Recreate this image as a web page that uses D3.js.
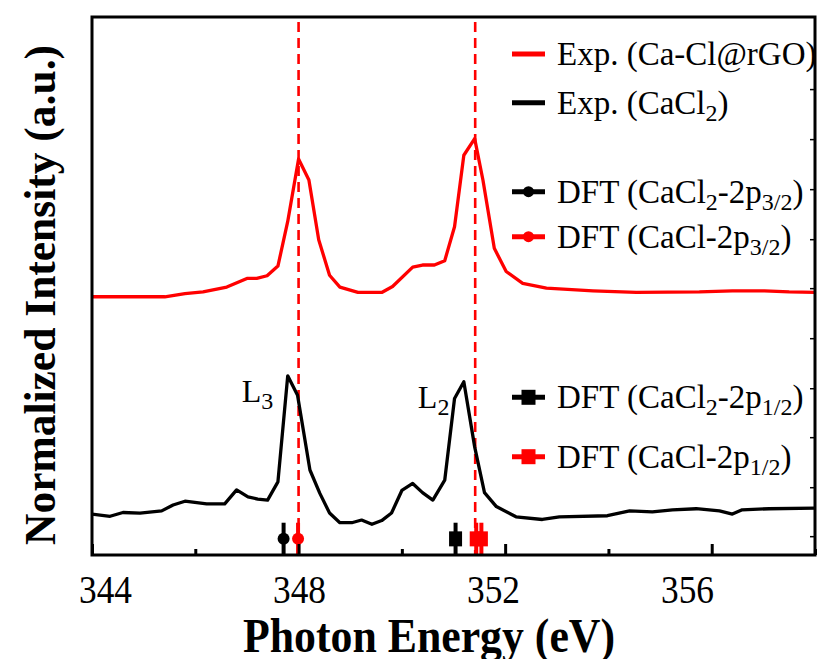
<!DOCTYPE html>
<html><head><meta charset="utf-8">
<script src="https://cdn.jsdelivr.net/npm/d3@7/dist/d3.min.js"></script>
<style>
body{margin:0;background:#fff}
svg{display:block}
text{font-family:"Liberation Serif","Times New Roman",serif !important;fill:#000}
</style>
</head><body>
<svg id="chart" width="817" height="659"></svg>
<script>
// ---------- data ----------
const redEnergy = [344.00,345.41,345.80,346.15,346.61,347.00,347.19,347.39,347.60,347.79,348.00,348.20,348.39,348.60,348.80,349.15,349.61,349.82,350.21,350.40,350.63,350.83,351.02,351.20,351.41,351.57,351.79,352.02,352.34,352.80,353.70,354.54,355.76,356.40,357.02,357.50,358.00];
const redIntensity = [0.480,0.480,0.486,0.489,0.498,0.514,0.514,0.519,0.537,0.620,0.736,0.697,0.586,0.520,0.498,0.488,0.488,0.499,0.535,0.539,0.539,0.547,0.610,0.743,0.774,0.697,0.570,0.527,0.505,0.496,0.491,0.488,0.489,0.491,0.491,0.489,0.488];

const blackEnergy = [344.00,344.35,344.60,344.93,345.35,345.57,345.80,346.22,346.57,346.80,347.02,347.21,347.40,347.60,347.79,347.98,348.22,348.41,348.60,348.80,349.03,349.22,349.42,349.61,349.80,350.00,350.21,350.40,350.60,350.83,351.02,351.20,351.41,351.60,351.83,352.21,352.72,353.05,353.98,354.41,354.85,355.24,355.70,356.15,356.40,356.59,357.11,358.00];
const blackIntensity = [0.076,0.072,0.079,0.078,0.082,0.093,0.100,0.095,0.095,0.121,0.108,0.104,0.102,0.136,0.333,0.297,0.158,0.115,0.078,0.060,0.060,0.065,0.057,0.064,0.078,0.120,0.133,0.116,0.102,0.139,0.291,0.322,0.201,0.116,0.090,0.071,0.066,0.071,0.073,0.082,0.080,0.084,0.086,0.082,0.076,0.084,0.086,0.087];

const dftCaCl2_p32 = [347.71];
const dftCaCl_p32  = [347.99];
const dftCaCl2_p12 = [351.04];
const dftCaCl_p12  = [351.44, 351.54];
const dftLevel = 0.030;
const dftError = 0.030;

const dashedEnergies = [348.00, 351.42];

const xMajorTicks = [344, 348, 352, 356];
const xMinorTicks = [346, 350, 354, 358];
const yRightTicks = [0.035,0.126,0.219,0.310,0.403,0.496,0.587,0.680,0.773,0.866];

const peakLabels = [["L","3",347.79],["L","2",351.20]];

const legendLabels = [
  [["Exp. (Ca-Cl@rGO)",0]],
  [["Exp. (CaCl",0],["2",1],[")",0]],
  [["DFT (CaCl",0],["2",1],["-2p",0],["3/2",1],[")",0]],
  [["DFT (CaCl-2p",0],["3/2",1],[")",0]],
  [["DFT (CaCl",0],["2",1],["-2p",0],["1/2",1],[")",0]],
  [["DFT (CaCl-2p",0],["1/2",1],[")",0]]
];

// ---------- layout ----------
const svg = d3.select("#chart");
const P = {left:92, right:815, top:17, bottom:555};
const x = d3.scaleLinear().domain([344,358]).range([P.left,P.right]);
const y = d3.scaleLinear().domain([0,1]).range([P.bottom,P.top]);
// tick labels sit on a slightly compressed scale in the reference
const xLabel = d3.scaleLinear().domain([344,356]).range([105,687]);

const RED = "#ff0000", BLACK = "#000000";
const SERIF = "Liberation Serif, Times New Roman, serif";

svg.append("clipPath").attr("id","clip").append("rect")
  .attr("x",P.left).attr("y",P.top).attr("width",P.right-P.left).attr("height",P.bottom-P.top);

const g = svg.append("g").attr("clip-path","url(#clip)");

// dashed reference lines
g.selectAll("line.dash").data(dashedEnergies).join("line")
  .attr("x1",d=>x(d)).attr("x2",d=>x(d))
  .attr("y1",P.top+5).attr("y2",P.bottom)
  .attr("stroke",RED).attr("stroke-width",2.6).attr("stroke-dasharray","10,6");

const line = d3.line().x(d=>x(d[0])).y(d=>y(d[1]));
g.append("path").datum(d3.zip(redEnergy,redIntensity))
  .attr("d",line).attr("fill","none").attr("stroke",RED).attr("stroke-width",3.3).attr("stroke-linejoin","round");
g.append("path").datum(d3.zip(blackEnergy,blackIntensity))
  .attr("d",line).attr("fill","none").attr("stroke",BLACK).attr("stroke-width",3.3).attr("stroke-linejoin","round");

// DFT sticks + markers
function dft(vals,color,shape){
  g.selectAll(null).data(vals).join("line")
    .attr("x1",d=>x(d)).attr("x2",d=>x(d))
    .attr("y1",y(dftLevel+dftError)).attr("y2",y(dftLevel-dftError))
    .attr("stroke",color).attr("stroke-width",4);
  if(shape==="circle"){
    g.selectAll(null).data(vals).join("circle")
      .attr("cx",d=>x(d)).attr("cy",y(dftLevel)).attr("r",6).attr("fill",color);
  } else {
    g.selectAll(null).data(vals).join("rect")
      .attr("x",d=>x(d)-6.5).attr("y",y(dftLevel)-7.5).attr("width",13).attr("height",15).attr("fill",color);
  }
}
dft(dftCaCl2_p32,BLACK,"circle");
dft(dftCaCl_p32,RED,"circle");
dft(dftCaCl2_p12,BLACK,"square");
dft(dftCaCl_p12,RED,"square");

// axes frame
const frame = svg.append("g");
const bx = frame.append("g").attr("transform",`translate(0,${P.bottom})`)
  .call(d3.axisTop(x).tickValues(xMajorTicks).tickSize(11).tickFormat(""));
const bxm = frame.append("g").attr("transform",`translate(0,${P.bottom})`)
  .call(d3.axisTop(x).tickValues(xMinorTicks).tickSize(6).tickFormat(""));
[bx,bxm].forEach(a=>{a.select(".domain").remove();a.selectAll(".tick line").attr("stroke","#000").attr("stroke-width",3);});

const ry = frame.append("g").attr("transform",`translate(${P.right},0)`)
  .call(d3.axisLeft(y).tickValues(yRightTicks).tickSize(5).tickFormat(""));
ry.select(".domain").remove();
ry.selectAll(".tick line").attr("stroke","#000").attr("stroke-width",1.5);

frame.append("rect").attr("x",P.left).attr("y",P.top)
  .attr("width",P.right-P.left).attr("height",P.bottom-P.top)
  .attr("fill","none").attr("stroke","#000").attr("stroke-width",3);

// tick labels
const lx = svg.append("g").attr("transform",`translate(0,${P.bottom})`)
  .call(d3.axisBottom(xLabel).tickValues(xMajorTicks).tickSize(0).tickPadding(0).tickFormat(d3.format("d")));
lx.attr("font-family",SERIF);
lx.select(".domain").remove();
lx.selectAll(".tick line").remove();
lx.selectAll("text").attr("y",48).attr("dy",null)
  .attr("font-size",40).attr("fill","#000")
  .attr("textLength",53).attr("lengthAdjust","spacingAndGlyphs");

// axis titles
svg.append("text").attr("x",429).attr("y",652).attr("text-anchor","middle")
  .attr("font-family",SERIF).attr("font-size",48).attr("font-weight","bold")
  .attr("textLength",372).attr("lengthAdjust","spacingAndGlyphs")
  .text("Photon Energy (eV)");
svg.append("text").attr("transform","translate(55,295) rotate(-90)").attr("text-anchor","middle")
  .attr("font-family",SERIF).attr("font-size",44).attr("font-weight","bold")
  .attr("textLength",500).attr("lengthAdjust","spacingAndGlyphs")
  .text("Normalized Intensity (a.u.)");

// peak labels
const bIdx = e => blackEnergy.indexOf(e);
peakLabels.forEach(([L,s,e])=>{
  const t = svg.append("text").attr("font-family",SERIF)
    .attr("x",x(e)-46).attr("y",y(blackIntensity[bIdx(e)])+26).attr("font-size",32);
  t.append("tspan").text(L);
  t.append("tspan").attr("font-size",24).attr("dy",7).text(s);
});

// legend
const legY = [54,102.7,191.7,236.7,397.3,456.7];
const legColor = [RED,BLACK,BLACK,RED,BLACK,RED];
const legShape = [null,null,"circle","circle","square","square"];
const lg = svg.append("g");
legendLabels.forEach((parts,i)=>{
  const yy = legY[i];
  lg.append("line").attr("x1",512).attr("x2",545).attr("y1",yy).attr("y2",yy)
    .attr("stroke",legColor[i]).attr("stroke-width",5);
  if(legShape[i]==="circle") lg.append("circle").attr("cx",528.5).attr("cy",yy).attr("r",5.5).attr("fill",legColor[i]);
  if(legShape[i]==="square") lg.append("rect").attr("x",521.5).attr("y",yy-7.5).attr("width",14).attr("height",15).attr("fill",legColor[i]);
  const t = lg.append("text").attr("font-family",SERIF).attr("x",557).attr("y",yy+11).attr("font-size",33);
  let down=false;
  parts.forEach(([s,sub])=>{
    const ts = t.append("tspan").text(s);
    if(sub && !down){ts.attr("font-size",24).attr("dy",7);down=true;}
    else if(!sub && down){ts.attr("dy",-7);down=false;}
  });
});
</script>
</body></html>
